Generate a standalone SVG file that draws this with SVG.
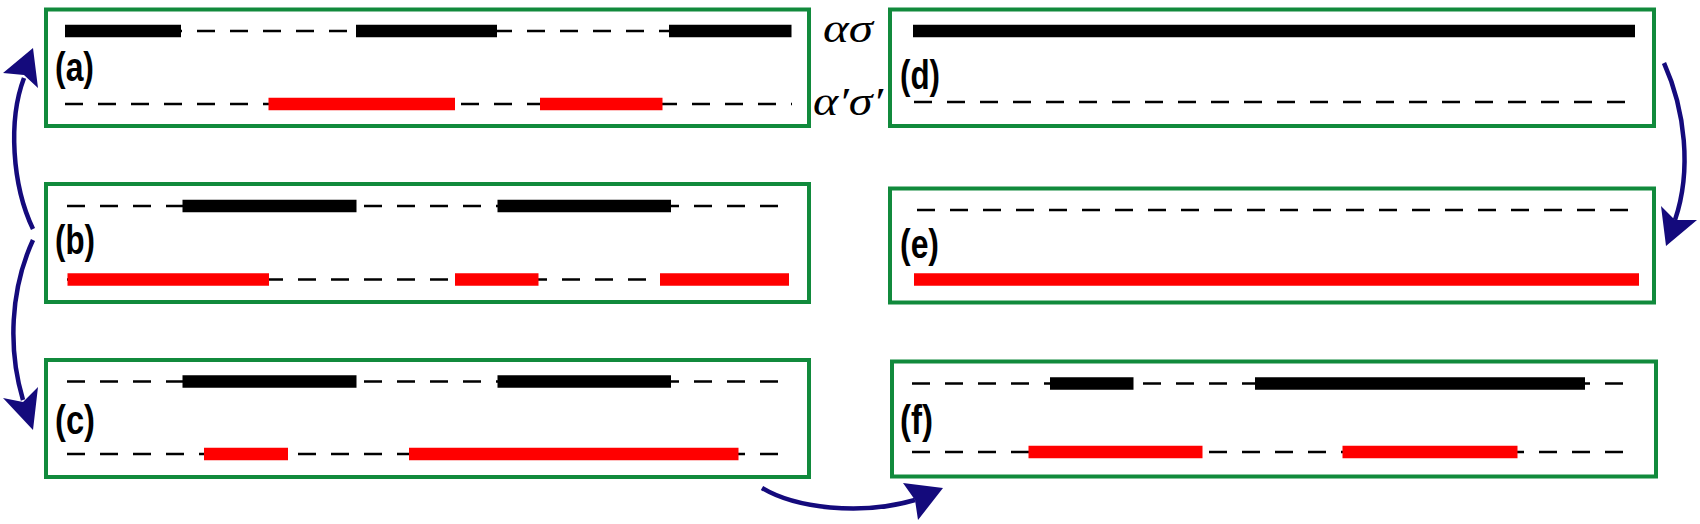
<svg xmlns="http://www.w3.org/2000/svg" width="1700" height="524" viewBox="0 0 1700 524">
<style>
.box{fill:none;stroke:#118a3c;stroke-width:4}
.dash{stroke:#000;stroke-width:2.7;stroke-dasharray:18 15;fill:none}
.blk{stroke:#000;stroke-width:12.5;fill:none}
.red{stroke:#ff0000;stroke-width:12.5;fill:none}
.lbl{font-family:"Liberation Sans",Arial,sans-serif;font-weight:bold;font-size:41px;fill:#000}
.greek{font-family:"Liberation Serif","DejaVu Serif",serif;font-style:italic;font-size:41px;fill:#000}
.arr{fill:none;stroke:#140a7c;stroke-width:4.5}
.head{fill:#140a7c;stroke:none}
</style>
<rect width="1700" height="524" fill="#fff"/>
<g id="node-a">
<rect class="box" x="46" y="9.5" width="763" height="116.5"/>
<line class="dash" x1="65" y1="31" x2="791" y2="31"/>
<line class="blk" x1="65" y1="31" x2="181" y2="31"/>
<line class="blk" x1="356" y1="31" x2="497" y2="31"/>
<line class="blk" x1="669" y1="31" x2="791.5" y2="31"/>
<line class="dash" x1="65" y1="104" x2="792" y2="104"/>
<line class="red" x1="268.5" y1="104" x2="455" y2="104"/>
<line class="red" x1="540" y1="104" x2="662.5" y2="104"/>
<text class="lbl" x="55" y="81" textLength="39" lengthAdjust="spacingAndGlyphs">(a)</text>
</g>
<g id="node-b">
<rect class="box" x="46" y="184" width="763" height="118"/>
<line class="dash" x1="67" y1="206" x2="789" y2="206"/>
<line class="blk" x1="182.5" y1="206" x2="356.5" y2="206"/>
<line class="blk" x1="497.5" y1="206" x2="671" y2="206"/>
<line class="dash" x1="67" y1="279.5" x2="789" y2="279.5"/>
<line class="red" x1="67.5" y1="279.5" x2="269" y2="279.5"/>
<line class="red" x1="455" y1="279.5" x2="538.5" y2="279.5"/>
<line class="red" x1="660" y1="279.5" x2="789" y2="279.5"/>
<text class="lbl" x="55" y="254" textLength="40" lengthAdjust="spacingAndGlyphs">(b)</text>
</g>
<g id="node-c">
<rect class="box" x="46" y="360" width="763" height="117"/>
<line class="dash" x1="67" y1="381.5" x2="789" y2="381.5"/>
<line class="blk" x1="182.5" y1="381.5" x2="356.5" y2="381.5"/>
<line class="blk" x1="497.5" y1="381.5" x2="671" y2="381.5"/>
<line class="dash" x1="67" y1="454" x2="789" y2="454"/>
<line class="red" x1="204" y1="454" x2="288" y2="454"/>
<line class="red" x1="409" y1="454" x2="738.5" y2="454"/>
<text class="lbl" x="55" y="434" textLength="40" lengthAdjust="spacingAndGlyphs">(c)</text>
</g>
<g id="node-d">
<rect class="box" x="890" y="9.5" width="764" height="116.5"/>
<line class="blk" x1="913" y1="31" x2="1635" y2="31"/>
<line class="dash" x1="914" y1="102" x2="1635" y2="102"/>
<text class="lbl" x="900" y="89" textLength="40" lengthAdjust="spacingAndGlyphs">(d)</text>
</g>
<g id="node-e">
<rect class="box" x="890" y="188.5" width="764" height="114"/>
<line class="dash" x1="917" y1="210" x2="1640" y2="210"/>
<line class="red" x1="914" y1="279.5" x2="1639" y2="279.5"/>
<text class="lbl" x="900" y="258" textLength="39" lengthAdjust="spacingAndGlyphs">(e)</text>
</g>
<g id="node-f">
<rect class="box" x="892" y="361.5" width="764" height="115"/>
<line class="dash" x1="912" y1="383.5" x2="1634" y2="383.5"/>
<line class="blk" x1="1050" y1="383.5" x2="1133.5" y2="383.5"/>
<line class="blk" x1="1255" y1="383.5" x2="1585" y2="383.5"/>
<line class="dash" x1="912" y1="452" x2="1634" y2="452"/>
<line class="red" x1="1028.5" y1="452" x2="1202.5" y2="452"/>
<line class="red" x1="1342.5" y1="452" x2="1517.5" y2="452"/>
<text class="lbl" x="900" y="434" textLength="33" lengthAdjust="spacingAndGlyphs">(f)</text>
</g>
<g id="legend">
<text class="greek" x="823" y="42" textLength="50" lengthAdjust="spacingAndGlyphs">ασ</text>
<text class="greek" x="813" y="115" textLength="70" lengthAdjust="spacingAndGlyphs">α′σ′</text>
</g>
<g id="connectors">
<path class="arr" d="M33,229 C12,185 8,120 24,78"/>
<polygon class="head" points="33,48 3,73 24,75 38,88"/>
<path class="arr" d="M33,240 C10,290 8,350 23,400"/>
<polygon class="head" points="33,430 3,398 23,402 38,387"/>
<path class="arr" d="M762,488 C795,508 860,516 915,500"/>
<polygon class="head" points="943,488 903,483 915,500 918,520"/>
<path class="arr" d="M1664,63 C1685,110 1692,170 1675,220"/>
<polygon class="head" points="1666,246 1661,206 1675,220 1697,220"/>
</g>
</svg>
